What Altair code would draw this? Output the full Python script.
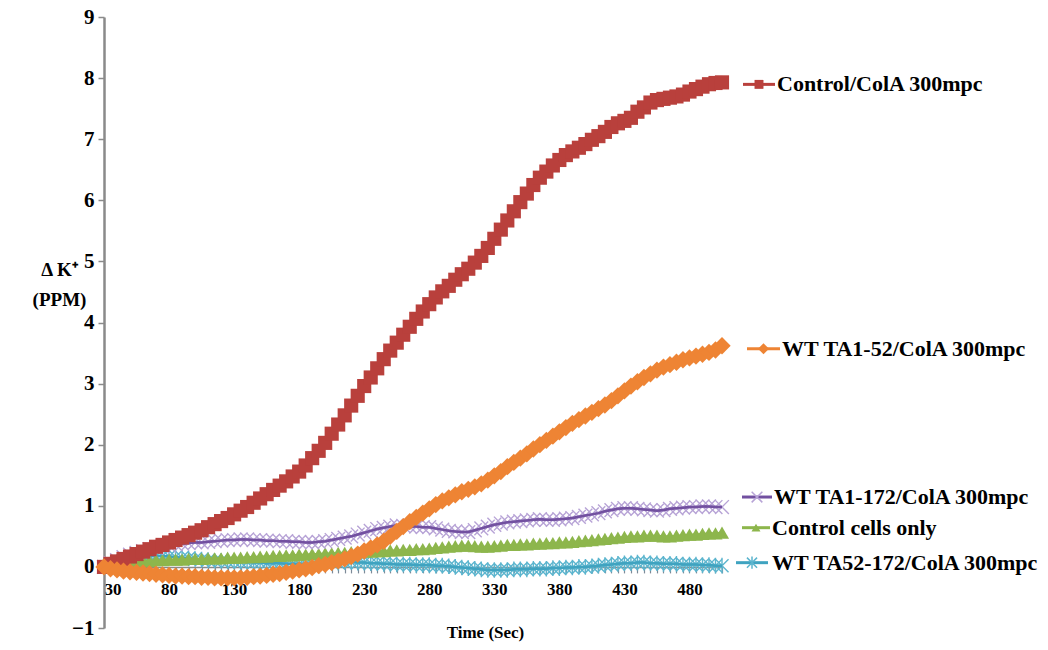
import altair as alt
import pandas as pd

# ---------------- data ----------------
times = list(range(30, 510, 5))

control = [0.00, 0.05, 0.09, 0.13, 0.17, 0.21, 0.25, 0.29, 0.33, 0.36,
           0.40, 0.44, 0.48, 0.52, 0.56, 0.60, 0.65, 0.70, 0.75, 0.80,
           0.86, 0.92, 0.98, 1.05, 1.12, 1.19, 1.26, 1.33, 1.40, 1.48,
           1.56, 1.66, 1.78, 1.90, 2.03, 2.18, 2.33, 2.48, 2.64, 2.80,
           2.96, 3.10, 3.25, 3.40, 3.54, 3.67, 3.80, 3.93, 4.06, 4.18,
           4.30, 4.41, 4.51, 4.60, 4.70, 4.79, 4.88, 4.98, 5.09, 5.22,
           5.37, 5.52, 5.67, 5.82, 5.97, 6.11, 6.25, 6.37, 6.47, 6.57,
           6.66, 6.74, 6.80, 6.86, 6.92, 6.99, 7.05, 7.12, 7.20, 7.26,
           7.30, 7.35, 7.45, 7.52, 7.60, 7.64, 7.66, 7.68, 7.70, 7.73,
           7.78, 7.82, 7.86, 7.90, 7.92, 7.93]

wt_ta1_52 = [0.00, -0.03, -0.05, -0.07, -0.08, -0.09, -0.10, -0.11, -0.12, -0.13,
             -0.14, -0.15, -0.15, -0.16, -0.16, -0.17, -0.17, -0.18, -0.18, -0.18,
             -0.18, -0.18, -0.17, -0.16, -0.15, -0.14, -0.12, -0.11, -0.09, -0.07,
             -0.05, -0.03, -0.01, 0.02, 0.04, 0.07, 0.10, 0.13, 0.17, 0.21,
             0.26, 0.31, 0.36, 0.42, 0.50, 0.58, 0.66, 0.74, 0.81, 0.88,
             0.95, 1.02, 1.08, 1.13, 1.18, 1.23, 1.27, 1.31, 1.36, 1.42,
             1.49, 1.56, 1.64, 1.71, 1.78, 1.85, 1.93, 2.00, 2.07, 2.14,
             2.21, 2.28, 2.35, 2.41, 2.47, 2.53, 2.59, 2.65, 2.72, 2.80,
             2.88, 2.96, 3.03, 3.10, 3.16, 3.22, 3.27, 3.31, 3.35, 3.39,
             3.42, 3.45, 3.48, 3.51, 3.55, 3.62]

wt_ta1_172 = [0.00, 0.06, 0.11, 0.16, 0.20, 0.23, 0.26, 0.29, 0.31, 0.33,
              0.35, 0.37, 0.38, 0.39, 0.40, 0.40, 0.41, 0.42, 0.43, 0.44,
              0.44, 0.45, 0.45, 0.44, 0.44, 0.43, 0.43, 0.42, 0.42, 0.41,
              0.41, 0.40, 0.40, 0.41, 0.42, 0.44, 0.46, 0.48, 0.50, 0.53,
              0.56, 0.59, 0.62, 0.64, 0.66, 0.68, 0.67, 0.66, 0.66, 0.65,
              0.65, 0.63, 0.61, 0.59, 0.58, 0.57, 0.57, 0.60, 0.63, 0.66,
              0.69, 0.71, 0.73, 0.74, 0.75, 0.76, 0.77, 0.78, 0.77, 0.77,
              0.78, 0.79, 0.80, 0.82, 0.84, 0.86, 0.88, 0.91, 0.93, 0.95,
              0.96, 0.96, 0.95, 0.94, 0.93, 0.92, 0.93, 0.95, 0.96, 0.97,
              0.98, 0.98, 0.99, 0.99, 0.98, 0.98]

control_cells = [0.00, 0.03, 0.05, 0.07, 0.08, 0.09, 0.10, 0.10, 0.11, 0.11,
                 0.12, 0.12, 0.12, 0.13, 0.13, 0.13, 0.14, 0.14, 0.14, 0.15,
                 0.15, 0.15, 0.16, 0.16, 0.17, 0.17, 0.18, 0.18, 0.19, 0.19,
                 0.20, 0.20, 0.21, 0.21, 0.22, 0.22, 0.23, 0.23, 0.24, 0.24,
                 0.25, 0.25, 0.26, 0.26, 0.27, 0.27, 0.28, 0.28, 0.29, 0.29,
                 0.30, 0.31, 0.32, 0.33, 0.34, 0.35, 0.35, 0.34, 0.33, 0.33,
                 0.34, 0.35, 0.36, 0.36, 0.37, 0.37, 0.38, 0.38, 0.39, 0.39,
                 0.40, 0.40, 0.41, 0.42, 0.43, 0.44, 0.45, 0.46, 0.47, 0.48,
                 0.49, 0.50, 0.50, 0.51, 0.51, 0.51, 0.50, 0.50, 0.51, 0.52,
                 0.53, 0.53, 0.54, 0.55, 0.55, 0.56]

wt_ta52_172 = [0.00, 0.04, 0.08, 0.11, 0.14, 0.16, 0.17, 0.18, 0.18, 0.18,
               0.17, 0.16, 0.15, 0.14, 0.13, 0.12, 0.11, 0.10, 0.10, 0.09,
               0.09, 0.08, 0.08, 0.07, 0.07, 0.06, 0.06, 0.06, 0.05, 0.05,
               0.05, 0.05, 0.05, 0.06, 0.06, 0.07, 0.07, 0.08, 0.08, 0.07,
               0.07, 0.06, 0.06, 0.05, 0.05, 0.04, 0.04, 0.04, 0.03, 0.03,
               0.03, 0.02, 0.02, 0.01, 0.00, -0.01, -0.02, -0.03, -0.04, -0.05,
               -0.05, -0.05, -0.05, -0.04, -0.04, -0.04, -0.03, -0.03, -0.03, -0.02,
               -0.02, -0.01, -0.01, 0.00, 0.00, 0.01, 0.02, 0.03, 0.04, 0.05,
               0.06, 0.06, 0.07, 0.07, 0.06, 0.06, 0.05, 0.05, 0.05, 0.04,
               0.04, 0.04, 0.03, 0.03, 0.02, 0.02]

series_names = ["Control/ColA 300mpc", "WT TA1-52/ColA 300mpc",
                "WT TA1-172/ColA 300mpc", "Control cells only",
                "WT TA52-172/ColA 300mpc"]
series_values = [control, wt_ta1_52, wt_ta1_172, control_cells, wt_ta52_172]

x_ticks = times
y_ticks = list(range(-1, 10))

# ---------------- styles ----------------
X_PATH = "M-1,-1L1,1M-1,1L1,-1"
STAR_PATH = "M-1,-1L1,1M-1,1L1,-1M0,-1.2L0,1.2"
style = {
    "Control/ColA 300mpc": dict(line="#B9403C", marker="#B9403C", shape="square",
                                size=200, filled=True, sw=2, tdx=55, tdy=2, r1=21, r2=53),
    "WT TA1-52/ColA 300mpc": dict(line="#EE8434", marker="#EE8434", shape="diamond",
                                  size=300, filled=True, sw=2, tdx=60, tdy=3, r1=25, r2=58),
    "WT TA1-172/ColA 300mpc": dict(line="#7250A0", marker="#B7A3D6", shape=X_PATH,
                                   size=190, filled=False, sw=2.5, tdx=52, tdy=-10, r1=20, r2=50),
    "Control cells only": dict(line="#8DB64C", marker="#8DB64C", shape="triangle-up",
                               size=200, filled=True, sw=2, tdx=50, tdy=-5, r1=20, r2=48),
    "WT TA52-172/ColA 300mpc": dict(line="#3FA3C0", marker="#5CB5CE", shape=STAR_PATH,
                                    size=170, filled=False, sw=2.5, tdx=50, tdy=-3, r1=14, r2=46),
}
draw_order = ["WT TA52-172/ColA 300mpc", "Control cells only",
              "WT TA1-172/ColA 300mpc", "Control/ColA 300mpc",
              "WT TA1-52/ColA 300mpc"]

FONT = "'Liberation Serif', 'Times New Roman', Times, serif"
AXIS_GRAY = "#8A8A8A"

rows = []
for name, vals in zip(series_names, series_values):
    for t, v in zip(times, vals):
        rows.append({"t": t, "v": v, "series": name})
df = pd.DataFrame(rows)

x_axis = alt.Axis(
    values=x_ticks, format="d",
    labelExpr="(datum.value - 30) % 50 == 0 ? datum.label : ''",
    labelOverlap=False, offset=-61.1,
    domainColor=AXIS_GRAY, domainWidth=1.5,
    tickColor="#7D8A98", tickSize=6, tickWidth=1.2,
    labelFont=FONT, labelFontWeight="bold", labelFontSize=17, labelColor="black",
    labelPadding=9, grid=False,
    title="Time (Sec)", titleFont=FONT, titleFontWeight="bold", titleFontSize=17,
    titleColor="black", titleX=381, titleY=66, titleAlign="center",
    titleBaseline="middle", titleAnchor="start",
)
y_axis = alt.Axis(
    values=y_ticks, format="d",
    domainColor=AXIS_GRAY, domainWidth=2.5,
    tickColor=AXIS_GRAY, tickSize=6, tickWidth=1.5,
    labelFont=FONT, labelFontWeight="bold", labelFontSize=21, labelColor="black",
    labelPadding=4, grid=False,
    title=["\u0394 K\u207a", "(PPM)"], titleFont=FONT, titleFontWeight="bold",
    titleFontSize=19, titleColor="black", titleAngle=0, titleX=-45, titleY=243,
    titleAlign="center", titleBaseline="top", titleLineHeight=30, titleAnchor="start",
)

x_enc = alt.X("t:Q", scale=alt.Scale(domain=[30, 505], nice=False, zero=False), axis=x_axis)
y_enc = alt.Y("v:Q", scale=alt.Scale(domain=[-1, 9], nice=False, zero=False), axis=y_axis)

base = alt.Chart(df)
last_t = times[-1]
layers = []
for name in draw_order:
    s = style[name]
    sub = base.transform_filter(alt.datum.series == name)
    layers.append(sub.mark_line(color=s["line"], strokeWidth=s["sw"]).encode(x=x_enc, y=y_enc))
    if s["filled"]:
        pt = sub.mark_point(shape=s["shape"], size=s["size"], filled=True,
                            color=s["marker"], opacity=1)
    else:
        pt = sub.mark_point(shape=s["shape"], size=s["size"], filled=False,
                            stroke=s["marker"], strokeWidth=1.4, opacity=1)
    layers.append(pt.encode(x=x_enc, y=y_enc))
    if not s["filled"]:
        layers.append(sub.mark_line(color=s["line"], strokeWidth=s["sw"]).encode(x=x_enc, y=y_enc))

# end-of-series labels with legend keys
for name in series_names:
    s = style[name]
    end = base.transform_filter((alt.datum.series == name) & (alt.datum.t == last_t))
    layers.append(end.mark_rule(color=s["line"], strokeWidth=3,
                                xOffset=s["r1"], x2Offset=s["r2"],
                                yOffset=s["tdy"]).encode(
        x=x_enc, x2="t:Q", y=y_enc))
    mid = (s["r1"] + s["r2"]) / 2
    if s["filled"]:
        key = end.mark_point(shape=s["shape"], size=s["size"] * 0.4, filled=True,
                             color=s["marker"], opacity=1, xOffset=mid, yOffset=s["tdy"])
    else:
        key = end.mark_point(shape=s["shape"], size=s["size"] * 0.6, filled=False,
                             stroke=s["marker"], strokeWidth=1.5, opacity=1,
                             xOffset=mid, yOffset=s["tdy"])
    layers.append(key.encode(x=x_enc, y=y_enc))
    layers.append(end.mark_text(align="left", baseline="middle", dx=s["tdx"], dy=s["tdy"],
                                font=FONT, fontWeight="bold", fontSize=22,
                                color="black").encode(x=x_enc, y=y_enc, text="series:N"))

chart = alt.layer(*layers).properties(
    width=618, height=611,
    padding={"left": 104, "top": 17, "right": 326, "bottom": 22},
    autosize=alt.AutoSizeParams(type="none"),
    background="white",
).configure_view(stroke=None)

chart.save("out.html", embed_options={"renderer": "svg", "actions": False})
